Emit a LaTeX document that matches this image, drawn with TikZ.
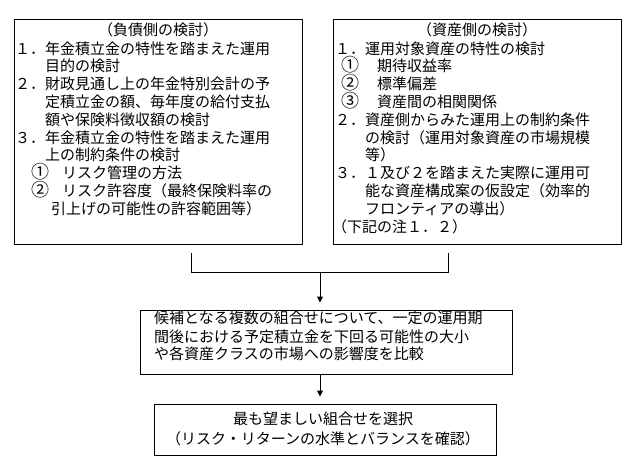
\documentclass[tikz,border=0pt]{standalone}
\usepackage{fontspec}
\setmainfont{Noto Sans CJK JP}
\usetikzlibrary{arrows.meta}
\newcommand{\circnum}[1]{{\fontsize{18}{18}\selectfont #1}}
\begin{document}
\begin{tikzpicture}[x=1pt,y=-1pt,
  box/.style={draw, line width=1pt, inner sep=0pt},
  tx/.style={anchor=west, inner sep=0pt, text height=11pt, text depth=3pt, font=\fontsize{15}{18}\selectfont},
  tc/.style={inner sep=0pt, text height=11pt, text depth=3pt, font=\fontsize{15}{18}\selectfont},
  conn/.style={line width=1pt},
  arr/.style={line width=1pt, -{Triangle[length=6pt,width=6pt]}, shorten >=7pt}]
\useasboundingbox (0,0) rectangle (637,463);
% boxes
\node[box, minimum width=288pt, minimum height=225pt] (L) at (158,131.5) {};
\node[box, minimum width=288pt, minimum height=225pt] (R) at (477,131.5) {};
\node[box, minimum width=372pt, minimum height=64pt] (M) at (326,342) {};
\node[box, minimum width=342pt, minimum height=51pt] (B) at (325,429.5) {};
% left text
\node[tc] (lh) at (158,31) {（負債側の検討）};
\node[tx] (l1) at (15,50) {１．年金積立金の特性を踏まえた運用};
\node[tx] (l2) at (45,67) {目的の検討};
\node[tx] (l3) at (15,85) {２．財政見通し上の年金特別会計の予};
\node[tx] (l4) at (45,103) {定積立金の額、毎年度の給付支払};
\node[tx] (l5) at (45,121) {額や保険料徴収額の検討};
\node[tx] (l6) at (15,139) {３．年金積立金の特性を踏まえた運用};
\node[tx] (l7) at (45,156) {上の制約条件の検討};
\node[tx] (l8) at (31,174) {\makebox[31pt][l]{\circnum{①}}リスク管理の方法};
\node[tx] (l9) at (31,192) {\makebox[31pt][l]{\circnum{②}}リスク許容度（最終保険料率の};
\node[tx] (l10) at (51,210) {引上げの可能性の許容範囲等）};
% right text
\node[tc] (rh) at (477,31) {（資産側の検討）};
\node[tx] (r1) at (335,50) {１．運用対象資産の特性の検討};
\node[tx] (r2) at (341,67) {\makebox[36pt][l]{\circnum{①}}期待収益率};
\node[tx] (r3) at (341,85) {\makebox[36pt][l]{\circnum{②}}標準偏差};
\node[tx] (r4) at (341,103) {\makebox[36pt][l]{\circnum{③}}資産間の相関関係};
\node[tx] (r5) at (335,121) {２．資産側からみた運用上の制約条件};
\node[tx] (r6) at (365,139) {の検討（運用対象資産の市場規模};
\node[tx] (r7) at (365,156) {等）};
\node[tx] (r8) at (335,174) {３．１及び２を踏まえた実際に運用可};
\node[tx] (r9) at (365,192) {能な資産構成案の仮設定（効率的};
\node[tx] (r10) at (365,210) {フロンティアの導出）};
\node[tx] (r11) at (332,228) {（下記の注１．２）};
% middle text
\node[tx] (m1) at (154,319) {候補となる複数の組合せについて、一定の運用期};
\node[tx] (m2) at (154,338) {間後における予定積立金を下回る可能性の大小};
\node[tx] (m3) at (154,355) {や各資産クラスの市場への影響度を比較};
% bottom text
\node[tc] (b1) at (323,420) {最も望ましい組合せを選択};
\node[tc] (b2) at (323,440) {（リスク・リターンの水準とバランスを確認）};
% connectors
\coordinate (ls) at (191,253);
\coordinate (rs) at (448,253);
\coordinate (j) at (320,272);
\draw[conn] (ls) -- (ls |- j) -- (rs |- j) -- (rs);
\draw[arr] (j) -- (j |- M.north);
\draw[arr] (j |- M.south) -- (j |- B.north);
\end{tikzpicture}
\end{document}
